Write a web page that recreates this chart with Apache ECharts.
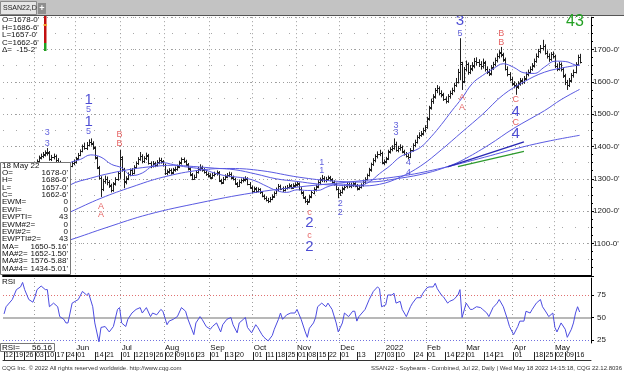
<!DOCTYPE html>
<html><head><meta charset="utf-8">
<script src="https://cdn.jsdelivr.net/npm/echarts@6/dist/echarts.min.js"></script>
<style>html,body{margin:0;padding:0;background:#fff}#c{width:624px;height:373px}</style>
</head><body><div id="c"></div>
<script>
// ---------- categories (trading days) ----------
const holidays = ['2021-05-31','2021-07-05','2021-09-06','2021-11-25','2021-12-24','2022-01-17','2022-02-21','2022-04-15'];
const dates = [];
for (let d = new Date(Date.UTC(2021,3,12)); d <= new Date(Date.UTC(2022,4,18)); d.setUTCDate(d.getUTCDate()+1)) {
  const wd = d.getUTCDay(); if (wd === 0 || wd === 6) continue;
  const s = d.toISOString().slice(0,10); if (holidays.includes(s)) continue;
  dates.push(s);
}
const cats = dates.concat(['e1','e2','e3','e4','e5']);

// ---------- tick labels ----------
const dayTicks = ['2021-04-12','2021-04-19','2021-04-26','2021-05-03','2021-05-10','2021-05-17','2021-05-24','2021-06-01','2021-06-14','2021-06-21','2021-07-01','2021-07-12','2021-07-19','2021-07-26','2021-08-02','2021-08-09','2021-08-16','2021-08-23','2021-09-01','2021-09-13','2021-09-20','2021-10-01','2021-10-11','2021-10-18','2021-10-25','2021-11-01','2021-11-08','2021-11-15','2021-11-22','2021-12-01','2021-12-13','2021-12-27','2022-01-03','2022-01-10','2022-01-24','2022-02-01','2022-02-14','2022-02-22','2022-03-01','2022-03-14','2022-03-21','2022-04-01','2022-04-18','2022-04-25','2022-05-02','2022-05-09','2022-05-16'];
const monthStartDates = ['2021-05-03','2021-06-01','2021-07-01','2021-08-02','2021-09-01','2021-10-01','2021-11-01','2021-12-01','2022-01-03','2022-02-01','2022-03-01','2022-04-01','2022-05-02'];
const monthNames = ['May','Jun','Jul','Aug','Sep','Oct','Nov','Dec','2022','Feb','Mar','Apr','May'];
const priceTicks = [1100,1200,1300,1400,1500,1600,1700];
const rsiTicks = [25,50,75];

// ---------- OHLC ----------
const opens = [
1236,1242,1249,1257,1253,1267,1275,1289,1297,1311,
1320,1305,1301,1310,1305,1320,1338,1355,1365,1372,
1375,1382,1380,1361,1369,1370,1357,1351,1337,1326,
1318,1321,1331,1341,1349,1353,1363,1375,1387,1402,
1394,1405,1415,1409,1396,1364,1334,1302,1270,1293,
1301,1290,1279,1266,1286,1300,1318,1362,1328,1292,
1302,1315,1327,1319,1337,1349,1362,1370,1355,1364,
1372,1349,1341,1347,1343,1352,1359,1353,1343,1317,
1323,1327,1319,1329,1330,1339,1351,1361,1354,1344,
1331,1313,1301,1307,1322,1331,1335,1327,1320,1314,
1311,1304,1313,1317,1319,1294,1289,1301,1307,1311,
1315,1304,1299,1285,1279,1290,1296,1297,1301,1284,
1273,1263,1270,1263,1267,1258,1247,1241,1235,1232,
1239,1245,1257,1267,1277,1271,1266,1272,1276,1280,
1273,1279,1282,1285,1269,1257,1242,1232,1230,1245,
1257,1267,1277,1289,1297,1302,1296,1301,1304,1297,
1290,1284,1269,1255,1260,1270,1277,1284,1277,1281,
1285,1279,1271,1275,1282,1289,1301,1312,1328,1346,
1357,1371,1377,1380,1351,1354,1363,1384,1391,1396,
1407,1389,1394,1398,1384,1377,1371,1369,1389,1404,
1414,1429,1436,1440,1451,1461,1487,1521,1540,1554,
1574,1580,1565,1560,1547,1541,1555,1566,1574,1589,
1600,1632,1655,1602,1641,1654,1630,1642,1651,1664,
1661,1654,1649,1659,1641,1631,1626,1644,1656,1667,
1679,1691,1684,1669,1640,1624,1609,1594,1589,1586,
1594,1604,1601,1610,1624,1631,1640,1651,1664,1680,
1694,1704,1711,1689,1681,1671,1686,1679,1649,1641,
1654,1639,1619,1601,1591,1604,1621,1631,1656,1678];
const highs = [
1246,1253,1260,1263,1270,1279,1292,1302,1315,1328,
1326,1312,1316,1318,1322,1340,1360,1372,1378,1383,
1388,1395,1386,1374,1378,1375,1364,1356,1342,1331,
1328,1335,1346,1354,1360,1368,1380,1391,1406,1412,
1414,1422,1425,1416,1400,1370,1340,1308,1300,1310,
1307,1296,1285,1290,1305,1323,1389,1370,1334,1308,
1320,1332,1333,1342,1354,1367,1383,1376,1370,1381,
1377,1354,1355,1353,1358,1366,1365,1358,1347,1329,
1333,1332,1334,1338,1344,1356,1366,1366,1359,1349,
1336,1318,1313,1326,1337,1345,1341,1333,1326,1320,
1317,1318,1322,1326,1324,1300,1306,1314,1318,1322,
1320,1310,1303,1290,1296,1301,1304,1308,1305,1290,
1279,1276,1275,1273,1271,1262,1252,1246,1241,1244,
1252,1261,1273,1284,1282,1276,1278,1281,1286,1284,
1286,1289,1292,1289,1274,1262,1247,1238,1251,1263,
1274,1282,1296,1304,1312,1308,1306,1310,1309,1302,
1295,1288,1274,1266,1276,1282,1290,1289,1288,1292,
1290,1284,1281,1286,1295,1305,1316,1334,1350,1364,
1376,1385,1390,1384,1360,1368,1390,1398,1404,1425,
1415,1402,1407,1403,1390,1383,1378,1395,1410,1421,
1435,1444,1448,1458,1466,1492,1526,1548,1562,1581,
1590,1586,1574,1566,1555,1562,1573,1582,1597,1612,
1640,1735,1662,1646,1666,1660,1652,1661,1674,1676,
1670,1664,1672,1665,1648,1640,1652,1662,1675,1688,
1698,1708,1690,1675,1648,1630,1616,1602,1596,1602,
1612,1611,1618,1631,1638,1648,1658,1672,1688,1702,
1714,1730,1716,1697,1688,1692,1694,1684,1657,1662,
1660,1644,1625,1606,1612,1627,1638,1661,1684,1686.75];
const lows = [
1230,1238,1245,1247,1250,1262,1271,1284,1292,1306,
1300,1294,1297,1299,1301,1315,1334,1350,1360,1364,
1369,1372,1356,1355,1360,1352,1345,1332,1320,1312,
1310,1316,1326,1336,1342,1347,1358,1370,1382,1390,
1389,1400,1403,1390,1360,1330,1298,1244,1262,1285,
1280,1272,1258,1260,1279,1294,1300,1322,1271,1283,
1296,1308,1311,1314,1332,1343,1356,1348,1349,1358,
1344,1333,1335,1336,1338,1345,1347,1338,1312,1311,
1316,1313,1315,1322,1325,1333,1344,1349,1339,1326,
1308,1296,1297,1302,1316,1324,1322,1316,1309,1304,
1299,1300,1307,1310,1290,1283,1284,1295,1302,1305,
1299,1295,1281,1273,1275,1285,1289,1292,1280,1269,
1255,1257,1256,1258,1253,1243,1235,1230,1225,1227,
1234,1241,1252,1262,1265,1259,1261,1267,1270,1268,
1269,1274,1276,1264,1252,1238,1225,1219,1226,1240,
1252,1261,1271,1283,1290,1289,1289,1294,1292,1285,
1279,1264,1240,1247,1254,1264,1270,1272,1271,1275,
1274,1264,1265,1270,1276,1284,1295,1307,1322,1340,
1351,1363,1370,1345,1343,1348,1358,1378,1385,1390,
1384,1382,1387,1379,1372,1366,1360,1364,1384,1398,
1409,1423,1430,1434,1444,1455,1480,1514,1532,1548,
1565,1558,1552,1541,1533,1535,1548,1559,1568,1584,
1595,1605,1575,1596,1632,1622,1624,1633,1642,1650,
1646,1638,1641,1632,1624,1618,1620,1637,1648,1660,
1672,1676,1662,1635,1617,1602,1588,1580,1560,1578,
1588,1592,1594,1604,1617,1625,1634,1644,1659,1674,
1688,1697,1684,1672,1662,1665,1672,1643,1633,1635,
1632,1612,1590,1575,1584,1598,1613,1626,1650,1657];
const closes = [
1240,1248,1256,1252,1266,1274,1288,1296,1310,1322,
1306,1300,1311,1304,1318,1336,1356,1366,1371,1376,
1381,1384,1362,1368,1371,1358,1352,1338,1325,1318,
1322,1330,1340,1348,1352,1362,1374,1386,1401,1395,
1406,1414,1410,1398,1366,1336,1304,1268,1294,1300,
1289,1280,1264,1285,1299,1318,1366,1330,1291,1301,
1314,1326,1318,1336,1348,1361,1371,1354,1363,1373,
1350,1340,1348,1342,1351,1358,1354,1344,1318,1322,
1326,1320,1328,1331,1338,1350,1362,1355,1345,1332,
1314,1300,1306,1321,1330,1336,1328,1321,1315,1310,
1305,1312,1316,1320,1295,1288,1300,1308,1312,1316,
1305,1300,1286,1278,1291,1295,1298,1302,1285,1274,
1262,1271,1262,1268,1259,1248,1240,1236,1231,1238,
1246,1256,1268,1278,1270,1265,1273,1275,1279,1274,
1280,1283,1286,1270,1258,1243,1231,1229,1246,1258,
1268,1276,1290,1298,1303,1295,1300,1305,1298,1291,
1285,1270,1256,1259,1271,1276,1285,1278,1282,1286,
1280,1270,1276,1281,1290,1300,1311,1329,1345,1358,
1370,1378,1381,1350,1353,1362,1385,1392,1395,1408,
1390,1395,1399,1385,1378,1372,1368,1390,1405,1415,
1430,1437,1441,1452,1460,1486,1520,1541,1555,1575,
1581,1566,1561,1548,1540,1556,1565,1575,1590,1601,
1630,1660,1600,1640,1655,1631,1641,1650,1665,1660,
1655,1648,1660,1640,1632,1625,1645,1655,1668,1680,
1690,1685,1670,1641,1625,1610,1595,1590,1585,1595,
1605,1600,1611,1625,1630,1641,1650,1665,1681,1695,
1705,1712,1690,1680,1670,1685,1680,1650,1640,1655,
1640,1620,1600,1590,1605,1620,1630,1655,1678,1662.75];

// ---------- moving averages ([bar, value]) ----------
const ma1 = [[0,1205],[10,1252],[20,1300],[27,1330],[32,1350],[37,1360],[42,1374],[47,1367],[52,1345],[57,1334],[62,1310],[67,1318],[72,1340],[77,1350],[82,1344],[87,1338],[92,1334],[97,1328],[102,1318],[107,1310],[112,1306],[117,1302],[122,1293],[127,1278],[132,1264],[137,1258],[142,1266],[147,1264],[152,1264],[157,1276],[162,1284],[167,1282],[172,1280],[177,1290],[182,1316],[187,1340],[192,1368],[197,1382],[202,1398],[207,1430],[212,1468],[217,1510],[222,1550],[227,1595],[232,1620],[237,1640],[242,1656],[247,1645],[252,1628],[257,1626],[262,1646],[267,1664],[272,1663],[277,1652],[279,1650.5]];
const ma2 = [[0,1140],[10,1180],[20,1225],[32,1281],[42,1302],[52,1318],[62,1330],[72,1338],[82,1342],[92,1338],[102,1333],[112,1328],[122,1315],[132,1300],[142,1292],[152,1284],[162,1280],[172,1278],[182,1283],[192,1305],[202,1340],[212,1390],[222,1445],[232,1500],[242,1560],[252,1600],[262,1630],[272,1645],[279,1652.2]];
const ma3 = [[0,1115],[16,1150],[32,1197],[47,1240],[62,1275],[77,1305],[95,1327],[110,1332],[125,1325],[143,1305],[160,1293],[176,1290],[192,1302],[205,1318],[215,1338],[222,1357],[235,1405],[247,1456],[262,1511],[270,1545],[279,1576.7]];
const ma4 = [[0,1045],[16,1080],[32,1111],[50,1150],[70,1190],[95,1226],[120,1256],[143,1275],[170,1292],[192,1308],[210,1330],[230,1362],[251,1398],[265,1418],[279,1434.6]];
const trendBlue = [[215,1337],[252,1414.25]];
const trendGreen = [[220,1338],[252,1384.9]];

// ---------- RSI (sampled: [bar, value]) ----------
const rsi = [[0,54],[1,62],[4,70],[6,81],[8,84],[9,89],[10,81],[12,70],[14,67],[15,73],[16,81],[18,85],[20,81],[21,81],[22,62],[24,66],[26,62],[27,51],[29,48],[30,44],[31,44],[32,55],[33,66],[36,70],[38,79],[40,75],[41,77],[43,62],[44,44],[46,23],[47,39],[49,40],[51,34],[53,40],[55,59],[56,61],[57,44],[59,40],[60,48],[62,55],[64,59],[66,61],[67,55],[69,61],[71,51],[72,55],[74,53],[76,59],[77,57],[79,42],[80,46],[82,48],[84,51],[86,61],[88,57],[89,49],[91,37],[92,31],[93,44],[95,51],[96,48],[98,40],[100,37],[101,40],[103,44],[105,34],[106,42],[108,48],[110,50],[111,42],[113,33],[114,44],[116,48],[117,50],[118,39],[120,33],[122,42],[123,39],[125,31],[126,28],[128,24],[130,30],[131,37],[133,48],[134,55],[135,48],[137,53],[139,55],[141,55],[142,59],[144,48],[146,34],[147,28],[148,38],[150,44],[151,50],[152,62],[154,66],[156,62],[157,66],[159,59],[161,44],[162,34],[164,44],[165,55],[167,51],[169,57],[170,57],[171,46],[172,51],[175,59],[177,70],[179,79],[181,84],[182,82],[183,62],[185,64],[186,75],[188,75],[189,77],[190,66],[192,68],[193,59],[195,51],[197,62],[198,66],[200,72],[202,72],[203,77],[205,83],[206,84],[208,84],[209,88],[210,82],[212,75],[213,73],[215,66],[216,68],[218,70],[220,75],[221,81],[222,50],[224,66],[226,59],[227,59],[229,62],[231,61],[232,59],[234,55],[235,51],[237,61],[239,66],[240,70],[242,62],[244,48],[245,40],[247,31],[249,40],[250,46],[252,46],[253,57],[255,55],[256,59],[258,66],[260,70],[261,62],[263,55],[264,51],[266,55],[267,39],[268,34],[270,44],[272,37],[273,28],[275,37],[276,44],[277,55],[278,62],[279,56.16]];

// ---------- Elliott wave labels ----------
const waveText  = ['3','3','1','5','1','5','A','A','B','B','c','2','c','2','1','1','2','2','3','3','4','4','3','5','A','A','B','B','C','4','C','4'];
const waveBar   = [21,21,41,41,41,41,47,47,56,56,148,148,148,148,154,154,163,163,190,190,196,196,221,221,222,222,241,241,248,248,248,248];
const wavePrice = [1442,1410,1544,1513,1476,1445,1213,1191,1438,1408,1197,1163,1126,1089,1352,1327,1225,1197,1466,1442,1349,1321,1788,1751,1550,1522,1751,1723,1544,1507,1473,1439];
const waveKind  = ['s','s','b','s','b','s','r','r','r','r','r','b','r','b','s','s','s','s','s','s','s','s','b','s','r','r','r','r','r','b','r','b'];

// ---------- helpers ----------
const FONT = 'Liberation Sans, Arial, sans-serif';
const dayTickSet = new Set(dayTicks);
const monthIdx = {}; monthStartDates.forEach((d,i)=>monthIdx[d]=monthNames[i]);
const isMonth = (i) => monthIdx[cats[i]] !== undefined;
const fmtPrice = v => v + "-0'";
const dotted = {color:'#9c9c9c', width:1, type:[1,3]};

const bars = closes.map((c,i)=>[i, opens[i], highs[i], lows[i], c]);
const kindStyle = {
  b: {color:'#1e1ec8', fontSize:15},
  s: {color:'#3a3ad4', fontSize:9},
  r: {color:'#e03c3c', fontSize:9}
};
const waveData = waveText.map((t,i)=>({
  value:[waveBar[i], wavePrice[i]],
  label:{show:true, formatter:t, color:kindStyle[waveKind[i]].color, fontSize:kindStyle[waveKind[i]].fontSize, fontFamily:FONT, position:'inside'}
}));
const maStyle = {type:'line', xAxisIndex:0, yAxisIndex:0, showSymbol:false, smooth:0.4, silent:true, z:6};
const tag = (val, text, bg, dy) => ({
  symbol:['none','none'], silent:true, lineStyle:{opacity:0},
  label:{show:true, position:'end', formatter:text, backgroundColor:bg, color:'#fff', fontSize:8, fontFamily:FONT, padding:[1,2,0,2], distance:1, offset:[0,dy]},
  data:[{yAxis:val}]
});

const chart = echarts.init(document.getElementById('c'), null, {renderer:'canvas'});
const txt = (x,y,t,o) => Object.assign({type:'text', z:100, style:Object.assign({x, y, text:t, fill:'#111', font:'8px '+FONT, textVerticalAlign:'middle'}, o||{})});

const boxLines = [['18 May 22',''],['O=',"1678-0'"],['H=',"1686-6'"],['L=',"1657-0'"],['C=',"1662-6'"],['EWM=','0'],['EWI=','0'],['EWPTI=','43'],['EWM#2=','0'],['EWI#2=','0'],['EWPTI#2=','43'],['MA=',"1650-5.16'"],['MA#2=',"1652-1.50'"],['MA#3=',"1576-5.88'"],['MA#4=',"1434-5.01'"]];
const graphics = [
  {type:'rect', z:90, shape:{x:0,y:0,width:624,height:15}, style:{fill:'#c3c3c3'}},
  {type:'rect', z:91, shape:{x:0.5,y:1.5,width:36,height:13}, style:{fill:'#e6e6e6', stroke:'#8a8a8a', lineWidth:1}},
  txt(3,8,'SSAN22,D',{font:'7px '+FONT, fill:'#222'}),
  {type:'rect', z:91, shape:{x:38,y:3,width:8,height:11}, style:{fill:'#8e8e8e'}},
  txt(42,8.5,'+',{fill:'#fff', textAlign:'center', font:'bold 9px '+FONT}),
  {type:'line', z:92, shape:{x1:0,y1:15.5,x2:624,y2:15.5}, style:{stroke:'#555', lineWidth:1}},
  {type:'rect', z:95, shape:{x:0,y:16,width:43,height:35}, style:{fill:'#fff'}},
  txt(2,20,"O=1678-0'"), txt(2,27.5,"H=1686-6'"), txt(2,35,"L=1657-0'"), txt(2,42.5,"C=1662-6'"), txt(2,50,"\u0394=  -15-2'"),
  {type:'rect', z:96, shape:{x:44,y:16,width:2.5,height:27}, style:{fill:'#c21010'}},
  {type:'rect', z:96, shape:{x:44,y:43,width:2.5,height:8}, style:{fill:'#22a022'}},
  {type:'rect', z:97, shape:{x:43.5,y:24,width:3.5,height:2}, style:{fill:'#f0a030'}},
  txt(566,22,'43',{fill:'#22a022', font:'16px '+FONT}),
  {type:'rect', z:98, shape:{x:0.5,y:162.5,width:70,height:112}, style:{fill:'#fff', stroke:'#777', lineWidth:1}},
  txt(2,281.5,'RSI',{font:'8px '+FONT}),
  {type:'rect', z:98, shape:{x:0.5,y:343.5,width:54,height:8}, style:{fill:'#fff', stroke:'#777', lineWidth:1}},
  txt(2,347.5,'RSI='), txt(52,347.5,'56.16',{textAlign:'right'}),
  txt(2,368,'CQG Inc. \u00a9 2022 All rights reserved worldwide. http://www.cqg.com',{font:'6px '+FONT, fill:'#333'}),
  txt(622,368,'SSAN22 - Soybeans - Combined, Jul 22, Daily | Wed May 18 2022 14:15:18, CQG 22.12.8036',{font:'6px '+FONT, fill:'#333', textAlign:'right'})
];
boxLines.forEach((l,i)=>{
  const y = 165.5 + i*7.35;
  graphics.push(txt(2,y,l[0]));
  if (l[1]) graphics.push(txt(68,y,l[1],{textAlign:'right'}));
});

chart.setOption({
  animation:false,
  backgroundColor:'#fff',
  grid:[
    {left:3, right:33, top:17.2, height:258.6},
    {left:3, right:33, top:278, height:65}
  ],
  xAxis:[
    {type:'category', gridIndex:0, data:cats, boundaryGap:true,
     axisLine:{show:true, onZero:false, lineStyle:{color:'#000', width:2}}, axisTick:{show:false}, axisLabel:{show:false},
     splitLine:{show:true, interval:(i)=>isMonth(i), lineStyle:dotted}},
    {type:'category', gridIndex:1, data:cats, boundaryGap:true, position:'bottom', offset:17,
     axisLine:{show:true, onZero:false, lineStyle:{color:'#333', width:1}},
     axisTick:{show:true, alignWithLabel:true, inside:true, length:8, interval:(i)=>dayTickSet.has(cats[i]), lineStyle:{color:'#222'}},
     axisLabel:{show:true, inside:true, margin:1, interval:(i)=>dayTickSet.has(cats[i]), formatter:(v)=>v.slice(8,10), align:'left', padding:[0,0,0,1], fontSize:7, fontFamily:FONT, color:'#111'},
     splitLine:{show:false}},
    {type:'category', gridIndex:1, data:cats, boundaryGap:true, position:'bottom', offset:0,
     axisLine:{show:false, onZero:false}, axisTick:{show:false},
     axisLabel:{show:true, margin:1, interval:(i)=>isMonth(i), formatter:(v)=>monthIdx[v]||'', align:'left', padding:[0,0,0,0], fontSize:8, fontFamily:FONT, color:'#111'},
     splitLine:{show:true, interval:(i)=>isMonth(i), lineStyle:dotted}}
  ],
  yAxis:[
    {type:'value', gridIndex:0, position:'right', min:1000, max:1800, interval:100,
     axisLine:{show:true, lineStyle:{color:'#000'}}, axisTick:{show:true, length:3, lineStyle:{color:'#000'}},
     minorTick:{show:true, splitNumber:4, length:2, lineStyle:{color:'#000'}},
     axisLabel:{show:true, showMinLabel:false, showMaxLabel:false, margin:2, formatter:fmtPrice, fontSize:8, fontFamily:FONT, color:'#222'},
     splitLine:{show:true, lineStyle:dotted}},
    {type:'value', gridIndex:1, position:'right', min:21.7, max:93.9,
     axisLine:{show:true, lineStyle:{color:'#000'}},
     axisTick:{show:true, length:3, customValues:rsiTicks, lineStyle:{color:'#000'}},
     axisLabel:{show:true, customValues:rsiTicks, margin:6, fontSize:8, fontFamily:FONT, color:'#222'},
     splitLine:{show:false}},
    {type:'value', gridIndex:0, position:'right', min:1000, max:1800, interval:50,
     axisLine:{show:false}, axisTick:{show:false}, axisLabel:{show:false},
     splitLine:{show:true, lineStyle:{color:'#a8a8a8', width:1, type:[1,12]}}}
  ],
  series:[
    {type:'custom', xAxisIndex:0, yAxisIndex:0, data:bars, encode:{x:0, y:[1,2,3,4]}, clip:true, z:5, silent:true,
     renderItem:(params, api)=>{
       const i = api.value(0);
       const pH = api.coord([i, api.value(2)]), pL = api.coord([i, api.value(3)]);
       const pO = api.coord([i, api.value(1)]), pC = api.coord([i, api.value(4)]);
       const x = Math.round(pH[0]) + 0.5;
       const yo = Math.round(pO[1]) + 0.5, yc = Math.round(pC[1]) + 0.5;
       const st = {stroke:'#1e1e1e', lineWidth:1};
       return {type:'group', children:[
         {type:'line', shape:{x1:x, y1:pH[1], x2:x, y2:pL[1]}, style:st},
         {type:'line', shape:{x1:x-1.5, y1:yo, x2:x, y2:yo}, style:st},
         {type:'line', shape:{x1:x, y1:yc, x2:x+1.5, y2:yc}, style:st}
       ]};
     }},
    Object.assign({}, maStyle, {name:'MA', data:ma1, lineStyle:{color:'#5a5ae2', width:1}}),
    Object.assign({}, maStyle, {name:'MA#2', data:ma2, lineStyle:{color:'#5a5ae2', width:1}}),
    Object.assign({}, maStyle, {name:'MA#3', data:ma3, lineStyle:{color:'#5a5ae2', width:1}}),
    Object.assign({}, maStyle, {name:'MA#4', data:ma4, lineStyle:{color:'#5a5ae2', width:1}, markLine:tag(1434.6, "1434-5'", '#2f3cf5', -2)}),
    {type:'line', xAxisIndex:0, yAxisIndex:0, data:trendBlue, showSymbol:false, silent:true, z:7, lineStyle:{color:'#2a2ab4', width:1.5}, markLine:tag(1414.25, "1414-2'", '#2f3cf5', 1)},
    {type:'line', xAxisIndex:0, yAxisIndex:0, data:trendGreen, showSymbol:false, silent:true, z:7, lineStyle:{color:'#2c9a2c', width:1.2}, markLine:tag(1384.9, "1384-7'", '#22a022', 1)},
    {type:'scatter', xAxisIndex:0, yAxisIndex:0, data:waveData, symbol:'circle', symbolSize:1, itemStyle:{color:'rgba(0,0,0,0)'}, silent:true, z:20, clip:false,
     label:{show:true, position:'inside'}},
    {type:'line', xAxisIndex:1, yAxisIndex:1, data:rsi, showSymbol:false, silent:true, z:6, lineStyle:{color:'#4c4ce0', width:1},
     markLine:{symbol:['none','none'], silent:true, label:{show:false},
       data:[
         {yAxis:75, lineStyle:{color:'#e07070', width:1, type:[1,2]}},
         {yAxis:50, lineStyle:{color:'#b8b8b8', width:2, type:'solid'}},
         {yAxis:25, lineStyle:{color:'#7070e0', width:1, type:[1,2]}}
       ]}},
    {type:'line', xAxisIndex:1, yAxisIndex:1, data:[], markLine:tag(56.16, '56.16', '#2f3cf5', 0)}
  ],
  graphic:graphics
});
</script></body></html>
